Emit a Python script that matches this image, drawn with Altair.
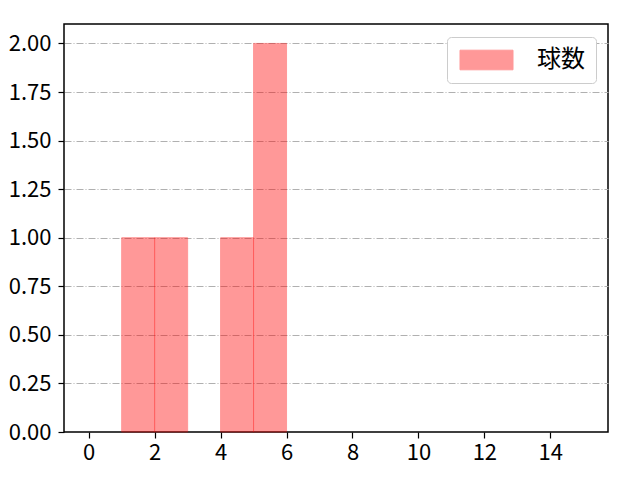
import altair as alt
import pandas as pd

# histogram bins (width 1) and counts
bin_start = [1, 2, 4, 5]
bin_end = [2, 3, 5, 6]
counts = [1, 1, 1, 2]
series_name = "球数"
x_ticks = [0, 2, 4, 6, 8, 10, 12, 14]
y_ticks = [0, 0.25, 0.5, 0.75, 1.0, 1.25, 1.5, 1.75, 2.0]

df = pd.DataFrame({
    "start": bin_start,
    "end": bin_end,
    "count": counts,
    "zero": [0] * len(counts),
    "series": [series_name] * len(counts),
})

FONT = "Noto Sans CJK JP"

chart = alt.Chart(df).mark_rect(opacity=0.4, stroke="#ff0000", strokeWidth=1).encode(
    x=alt.X("start:Q",
            scale=alt.Scale(domain=[-0.75, 15.75], nice=False, zero=False),
            axis=alt.Axis(values=x_ticks, title=None, grid=False, domain=False,
                          tickColor="black", tickSize=6, tickWidth=1.2,
                          labelFont=FONT, labelFontSize=22, labelColor="black",
                          labelPadding=4, format="d")),
    x2="end:Q",
    y=alt.Y("count:Q",
            scale=alt.Scale(domain=[0, 2.1], nice=False),
            axis=alt.Axis(values=y_ticks, title=None, grid=True, domain=False,
                          format=".2f", gridColor="#b0b0b0", gridDash=[7, 2, 1, 2],
                          gridWidth=1,
                          gridOpacity={"condition": {"test": "datum.value === 0", "value": 0}, "value": 1},
                          tickColor="black", tickSize=6, tickWidth=1.2,
                          labelFont=FONT, labelFontSize=22, labelColor="black",
                          labelPadding=7)),
    y2="zero:Q",
    fill=alt.Fill("series:N", scale=alt.Scale(range=["#ff0000"]),
                  legend=alt.Legend(title=None, orient="none", legendX=383, legendY=13,
                                    padding=11, strokeColor="#cccccc", fillColor="white",
                                    cornerRadius=4,
                                    symbolType="M-1,-0.98H4.3V0.98H-1Z", symbolSize=400,
                                    symbolOpacity=0.4, symbolStrokeColor="#ff0000",
                                    symbolStrokeWidth=1,
                                    labelFont=FONT, labelFontSize=24, labelColor="black",
                                    labelOffset=55)),
).properties(
    width=544, height=408, autosize="none",
    padding={"left": 56, "top": 16, "right": 24, "bottom": 32},
).configure_view(stroke="black", strokeWidth=1.5)

chart.save("out.html", embed_options={"renderer": "svg", "actions": False})
